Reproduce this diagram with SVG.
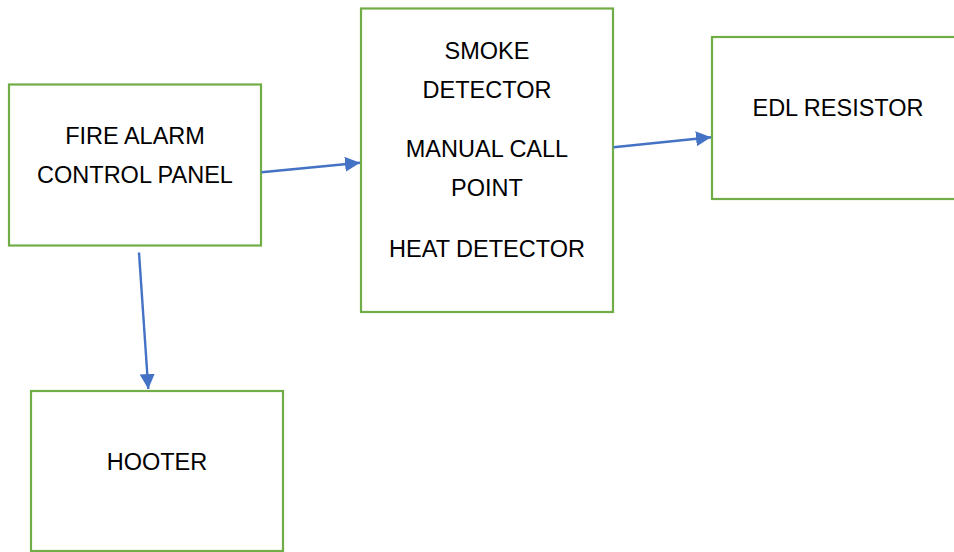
<svg xmlns="http://www.w3.org/2000/svg" width="954" height="552" viewBox="0 0 954 552">
<style>
.box{fill:#fff;stroke:#70AD47;stroke-width:2.2}
.lbl{font-family:"Liberation Sans",Arial,sans-serif;font-size:23.5px;fill:#000;text-anchor:middle}
.conn{stroke:#4472C4;stroke-width:2.4;fill:none;marker-end:url(#ah)}
</style>
<defs>
<marker id="ah" markerUnits="userSpaceOnUse" markerWidth="16" markerHeight="15" refX="15" refY="7.5" orient="auto">
<path d="M0,0 L15,7.5 L0,15 Z" fill="#4472C4"/>
</marker>
</defs>
<rect width="954" height="552" fill="#fff"/>
<g id="facp">
<rect class="box" x="9" y="84.5" width="252" height="161"/>
<text class="lbl" x="135" y="144">FIRE ALARM</text>
<text class="lbl" x="135" y="182.5">CONTROL PANEL</text>
</g>
<g id="detectors">
<rect class="box" x="361" y="8.5" width="252" height="303.5"/>
<text class="lbl" x="487" y="59">SMOKE</text>
<text class="lbl" x="487" y="97.5">DETECTOR</text>
<text class="lbl" x="487" y="157">MANUAL CALL</text>
<text class="lbl" x="487" y="195.5">POINT</text>
<text class="lbl" x="487" y="256.5">HEAT DETECTOR</text>
</g>
<g id="edl">
<rect class="box" x="712" y="37" width="260" height="162"/>
<text class="lbl" x="838" y="116">EDL RESISTOR</text>
</g>
<g id="hooter">
<rect class="box" x="31" y="391" width="252" height="160"/>
<text class="lbl" x="157" y="469.5">HOOTER</text>
</g>
<g id="connectors">
<line class="conn" x1="261.5" y1="172.3" x2="360" y2="162.8"/>
<line class="conn" x1="613.5" y1="147.3" x2="711" y2="137.3"/>
<line class="conn" x1="139" y1="252.5" x2="148.3" y2="389"/>
</g>
</svg>
